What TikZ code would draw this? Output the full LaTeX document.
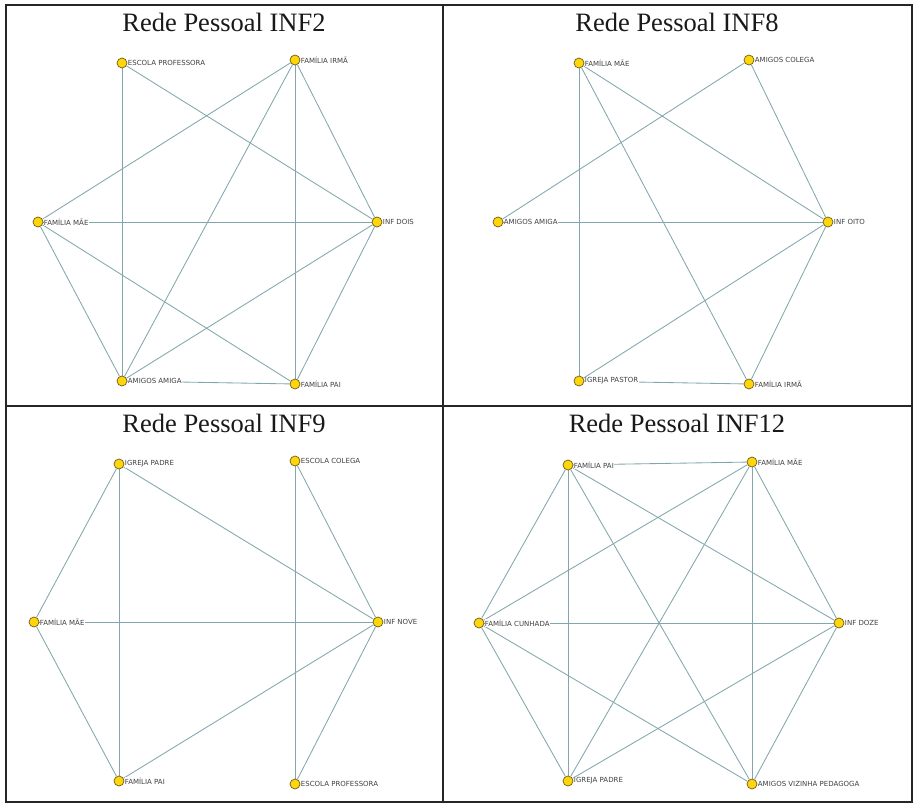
\documentclass[tikz,border=0pt]{standalone}
\usepackage{fontspec}
\setmainfont{Liberation Serif}
\newfontfamily\lblfont{DejaVu Sans}
\usetikzlibrary{backgrounds}
\definecolor{edgecol}{RGB}{130,166,172}
\definecolor{nodecol}{RGB}{255,214,10}
\definecolor{rimcol}{RGB}{110,92,30}

\begin{document}
\begin{tikzpicture}[x=1pt,y=-1pt,
    vert/.style={circle,draw=rimcol,fill=nodecol,line width=.7pt,minimum size=10pt,inner sep=0pt},
    lbl/.style={font=\lblfont\fontsize{7}{7}\selectfont,text=black!75,fill=white,inner sep=.4pt},
    edge/.style={draw=edgecol,line width=.85pt},
    title/.style={font=\fontsize{26.5}{28}\selectfont,anchor=base,text=black!90},
    grid/.style={draw=black!85,line width=1.5pt}]
  \useasboundingbox (0,0) rectangle (914,804);
  \draw [grid] (6,5) rectangle (912,802);
  \draw [grid] (443,5) -- (443,802);
  \draw [grid] (6,406) -- (912,406);

  \node [title] (t2) at (224,31) {Rede Pessoal INF2};
  \node [title] (t8) at (677,31) {Rede Pessoal INF8};
  \node [title] (t9) at (224,432) {Rede Pessoal INF9};
  \node [title] (t12) at (677,432) {Rede Pessoal INF12};

  % INF2
  \node [vert, label={[lbl]right:ESCOLA PROFESSORA}] (a2ep) at (122,63) {};
  \node [vert, label={[lbl]right:FAMÍLIA IRMÃ}] (a2fi) at (295,60) {};
  \node [vert, label={[lbl]right:FAMÍLIA MÃE}] (a2fm) at (38,222) {};
  \node [vert, label={[lbl]right:INF DOIS}] (a2inf) at (377,222) {};
  \node [vert, label={[lbl]right:AMIGOS AMIGA}] (a2am) at (122,381) {};
  \node [vert, label={[lbl]right:FAMÍLIA PAI}] (a2fp) at (295,384) {};

  % INF8
  \node [vert, label={[lbl]right:FAMÍLIA MÃE}] (b8fm) at (579,63) {};
  \node [vert, label={[lbl]right:AMIGOS COLEGA}] (b8ac) at (749,60) {};
  \node [vert, label={[lbl]right:AMIGOS AMIGA}] (b8aa) at (498,222) {};
  \node [vert, label={[lbl]right:INF OITO}] (b8inf) at (828,222) {};
  \node [vert, label={[lbl]right:IGREJA PASTOR}] (b8ip) at (579,381) {};
  \node [vert, label={[lbl]right:FAMÍLIA IRMÃ}] (b8fi) at (749,384) {};

  % INF9
  \node [vert, label={[lbl]right:IGREJA PADRE}] (c9ip) at (119,464) {};
  \node [vert, label={[lbl]right:ESCOLA COLEGA}] (c9ec) at (295,461) {};
  \node [vert, label={[lbl]right:FAMÍLIA MÃE}] (c9fm) at (34,622) {};
  \node [vert, label={[lbl]right:INF NOVE}] (c9inf) at (378,622) {};
  \node [vert, label={[lbl]right:FAMÍLIA PAI}] (c9fp) at (119,781) {};
  \node [vert, label={[lbl]right:ESCOLA PROFESSORA}] (c9ep) at (295,784) {};

  % INF12
  \node [vert, label={[lbl]right:FAMÍLIA PAI}] (d12fp) at (568,465) {};
  \node [vert, label={[lbl]right:FAMÍLIA MÃE}] (d12fm) at (752,462) {};
  \node [vert, label={[lbl]right:FAMÍLIA CUNHADA}] (d12fc) at (479,623) {};
  \node [vert, label={[lbl]right:INF DOZE}] (d12inf) at (839,623) {};
  \node [vert, label={[lbl]right:IGREJA PADRE}] (d12ip) at (568,781) {};
  \node [vert, label={[lbl]right:AMIGOS VIZINHA PEDAGOGA}] (d12av) at (752,784) {};

  \begin{scope}[on background layer]
    \foreach \a/\b in {ep/am,ep/inf,fi/fm,fi/am,fi/fp,fi/inf,fm/inf,fm/am,fm/fp,inf/am,inf/fp,am/fp}
      \draw [edge] (a2\a) -- (a2\b);
    \foreach \a/\b in {fm/ip,fm/fi,fm/inf,ac/aa,ac/inf,aa/inf,inf/ip,inf/fi,ip/fi}
      \draw [edge] (b8\a) -- (b8\b);
    \foreach \a/\b in {ip/fm,ip/fp,ip/inf,ec/ep,ec/inf,fm/inf,fm/fp,inf/fp,inf/ep}
      \draw [edge] (c9\a) -- (c9\b);
    \foreach \a/\b in {fp/fm,fp/fc,fp/ip,fp/inf,fp/av,fm/fc,fm/ip,fm/av,fm/inf,fc/inf,fc/ip,fc/av,inf/ip,inf/av}
      \draw [edge] (d12\a) -- (d12\b);
  \end{scope}
\end{tikzpicture}
\end{document}
